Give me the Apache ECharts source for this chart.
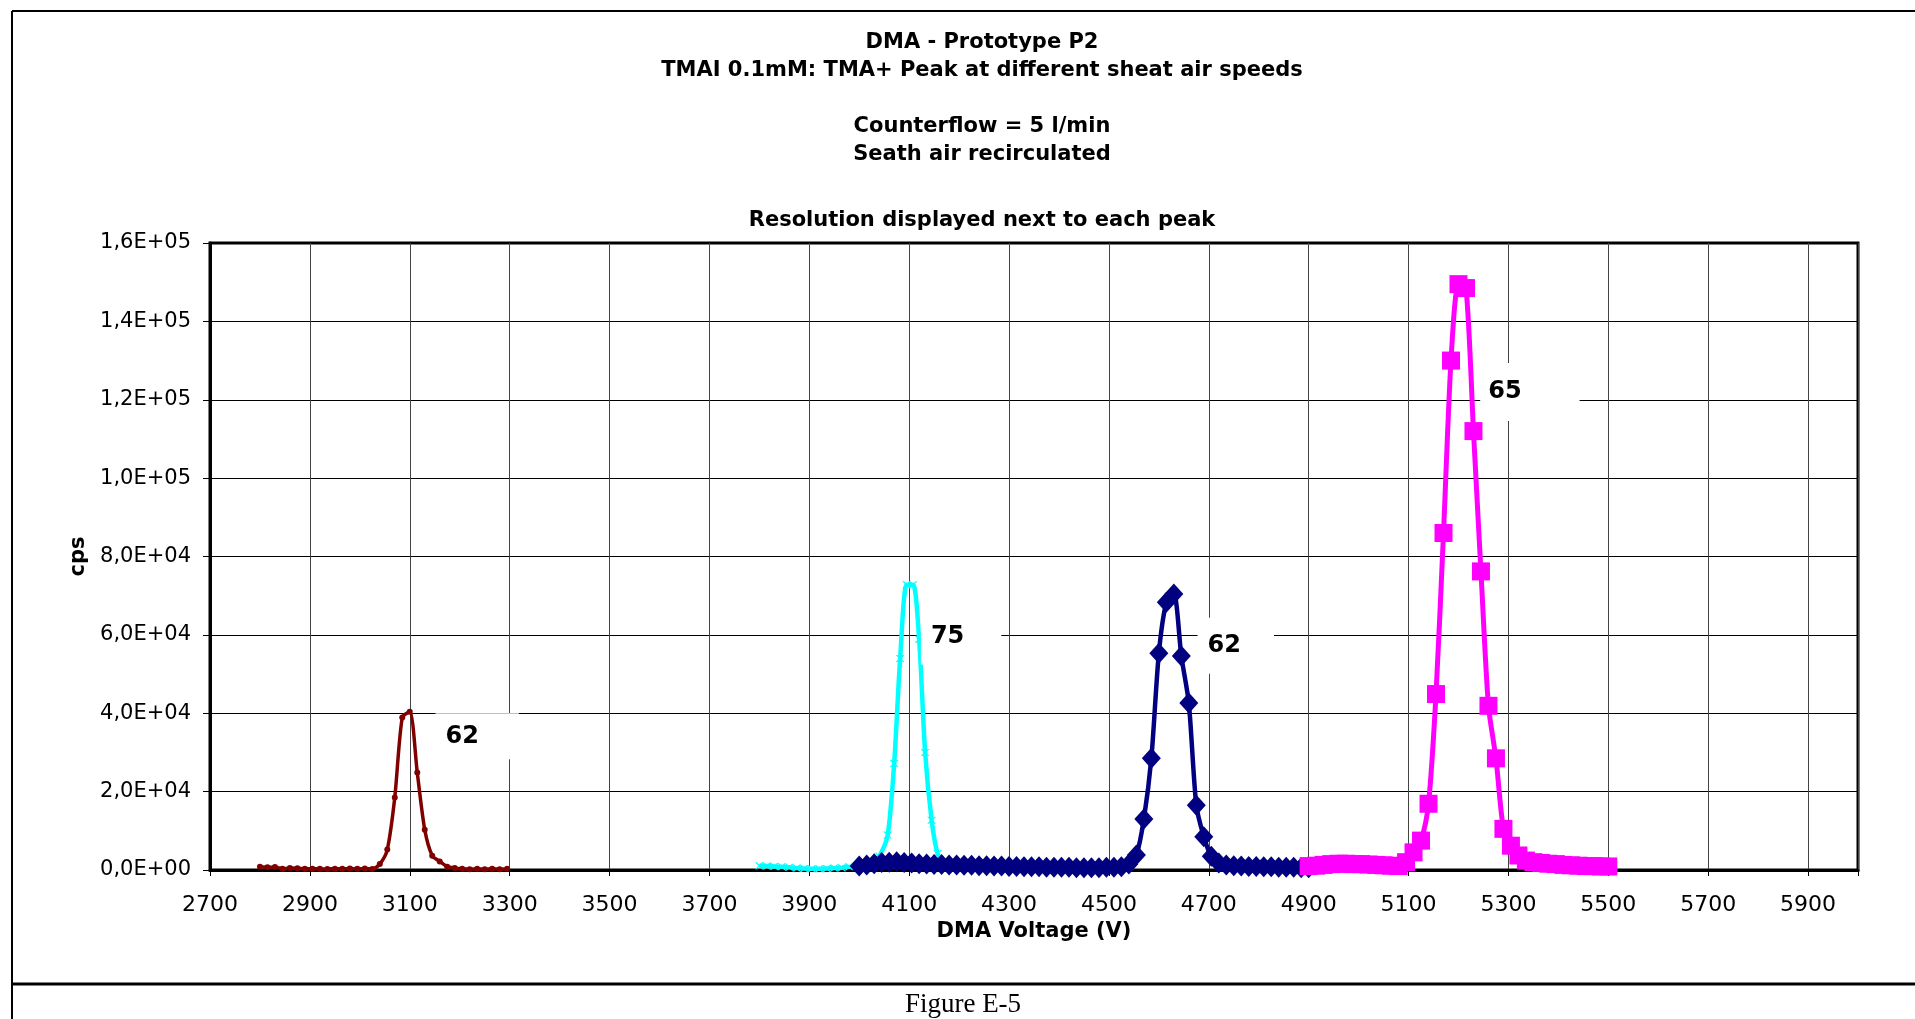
<!DOCTYPE html>
<html><head><meta charset="utf-8">
<script src="https://cdn.jsdelivr.net/npm/echarts@6/dist/echarts.min.js"></script>
<style>html,body{margin:0;padding:0;background:#fff}#c{width:1915px;height:1019px}</style>
</head><body><div id="c"></div>
<script>
// ---- data ----
const xTickLabels = [2700,2900,3100,3300,3500,3700,3900,4100,4300,4500,4700,4900,5100,5300,5500,5700,5900];
const yTickValues = [0,20000,40000,60000,80000,100000,120000,140000,160000];

const redV = [2800,2815,2830,2845,2860,2875,2890,2905,2920,2935,2950,2965,2980,2995,3010,3025,3040,3055,3070,3085,3100,3115,3130,3145,3160,3175,3190,3205,3220,3235,3250,3265,3280,3295];
const redCps = [800,700,750,300,500,450,350,300,300,250,350,300,400,300,400,250,1500,5200,18500,38900,40400,24900,10300,3650,2200,850,500,300,200,300,200,300,200,300];

const cyanV = [3800,3815,3830,3845,3860,3875,3890,3905,3920,3935,3950,3965,3980,3995,4010,4025,4040,4057,4070,4082,4095,4108,4120,4132,4145,4157,4170];
const cyanCps = [1100,1000,900,800,700,500,400,300,300,400,500,600,800,1000,1300,1800,3500,8900,27200,54000,72800,72800,58900,30000,12700,4200,1800];

const navyV = [4000,4015,4030,4045,4060,4075,4090,4105,4120,4135,4150,4165,4180,4195,4210,4225,4240,4255,4270,4285,4300,4315,4330,4345,4360,4375,4390,4405,4420,4435,4450,4465,4480,4495,4510,4525,4540,4555,4570,4585,4600,4615,4630,4645,4660,4675,4690,4705,4720,4735,4750,4765,4780,4795,4810,4825,4840,4855,4870,4885,4900];
const navyCps = [1000,1300,1600,1900,2000,2100,1900,1800,1600,1500,1400,1400,1300,1300,1200,1200,1100,1100,1000,1000,900,900,800,800,800,700,700,700,700,600,600,600,600,700,700,800,1500,3800,13000,28500,55300,68300,70400,54600,42600,16500,8500,3500,1800,1300,1100,1000,900,900,800,800,700,700,700,600,600];

const magV = [4900,4915,4930,4945,4960,4975,4990,5005,5020,5035,5050,5065,5080,5095,5110,5125,5140,5155,5170,5185,5200,5215,5230,5245,5260,5275,5290,5305,5320,5335,5350,5365,5380,5395,5410,5425,5440,5455,5470,5485,5500];
const magCps = [1000,1100,1300,1500,1600,1600,1500,1500,1400,1300,1200,1100,1000,2000,4500,7500,16900,44900,86000,130000,149500,148500,112000,76200,41900,28500,10500,6200,3700,2400,2000,1800,1600,1500,1300,1200,1100,1000,1000,900,900];

// resolution annotations (text, anchor voltage, anchor cps)
const resText = ['62','75','62','65'];
const resV = [3235,4204,4754,5343];
const resCps = [34100,59600,57200,122000];

// ---- build ----
const FONT = 'DejaVu Sans';
function pairs(v,c){ return v.map((x,i)=>[x,c[i]]); }
function sci(v){
  if (v === 0) return '0,0E+00';
  const e = Math.floor(Math.log10(v) + 1e-9);
  const m = v / Math.pow(10, e);
  return m.toFixed(1).replace('.', ',') + 'E+' + (e < 10 ? '0' + e : e);
}
function resLabel(i, pad){
  return {
    symbol: 'rect', symbolSize: 1,
    itemStyle: {color: 'rgba(0,0,0,0)'},
    data: [{coord: [resV[i], resCps[i]], value: resText[i]}],
    label: {
      show: true, position: 'inside', formatter: resText[i],
      color: '#000', fontFamily: FONT, fontWeight: 'bold', fontSize: 24, lineHeight: 24,
      backgroundColor: '#fff', padding: pad
    }
  };
}
function mkSeries(name, v, c, color, width, symbol, size, mp){
  return {
    name, type: 'line', data: pairs(v, c), smooth: 0.25,
    lineStyle: {color, width}, itemStyle: {color, borderWidth: 0},
    symbol, symbolSize: size, showSymbol: true, showAllSymbol: true,
    animation: false, markPoint: mp, z: 2
  };
}
const crossPath = 'path://M0,0L2,0L5,3L8,0L10,0L6,4L10,8L8,8L5,5L2,8L0,8L4,4Z';

const chart = echarts.init(document.getElementById('c'));
const titleStyle = {fontFamily: FONT, fontWeight: 'bold', fontSize: 21, fill: '#000', textAlign: 'center', textVerticalAlign: 'middle'};
chart.setOption({
  animation: false,
  backgroundColor: '#fff',
  graphic: [
    {type: 'line', shape: {x1: 12, y1: 11, x2: 12, y2: 1019}, style: {stroke: '#000', lineWidth: 2}},
    {type: 'line', shape: {x1: 12, y1: 11, x2: 1915, y2: 11}, style: {stroke: '#000', lineWidth: 2}},
    {type: 'line', shape: {x1: 12, y1: 984, x2: 1915, y2: 984}, style: {stroke: '#000', lineWidth: 3}},
    {type: 'text', x: 982, y: 43, style: Object.assign({text: 'DMA - Prototype P2'}, titleStyle)},
    {type: 'text', x: 982, y: 71, style: Object.assign({text: 'TMAI 0.1mM: TMA+ Peak at different sheat air speeds'}, titleStyle)},
    {type: 'text', x: 982, y: 127, style: Object.assign({text: 'Counterflow = 5 l/min'}, titleStyle)},
    {type: 'text', x: 982, y: 155, style: Object.assign({text: 'Seath air recirculated'}, titleStyle)},
    {type: 'text', x: 982, y: 221, style: Object.assign({text: 'Resolution displayed next to each peak'}, titleStyle)},
    {type: 'text', x: 963, y: 1005, style: {text: 'Figure E-5', fontFamily: 'Liberation Serif', fontSize: 27, fill: '#000', textAlign: 'center', textVerticalAlign: 'middle'}}
  ],
  grid: {left: 210, right: 57, top: 243, bottom: 149, show: true, borderColor: '#000', borderWidth: 3, backgroundColor: '#fff'},
  xAxis: {
    type: 'value', min: 2700, max: 6000, interval: 200,
    name: 'DMA Voltage (V)', nameLocation: 'middle', nameGap: 50,
    nameTextStyle: {fontFamily: FONT, fontWeight: 'bold', fontSize: 21, color: '#000'},
    axisLine: {onZero: false, lineStyle: {color: '#000', width: 3}},
    axisTick: {show: true, length: 6, lineStyle: {color: '#000', width: 1}},
    axisLabel: {margin: 24, fontFamily: FONT, fontSize: 22, color: '#000',
      formatter: v => xTickLabels.indexOf(v) >= 0 ? String(v) : ''},
    splitLine: {show: true, lineStyle: {color: '#444', width: 1}}
  },
  yAxis: {
    type: 'value', min: 0, max: 160000, interval: 20000,
    name: 'cps', nameLocation: 'middle', nameGap: 120,
    nameTextStyle: {fontFamily: FONT, fontWeight: 'bold', fontSize: 21, color: '#000'},
    axisLine: {show: true, lineStyle: {color: '#000', width: 3}},
    axisTick: {show: true, length: 7, lineStyle: {color: '#000', width: 1}},
    axisLabel: {margin: 19, fontFamily: FONT, fontSize: 21, color: '#000',
      formatter: v => yTickValues.indexOf(v) >= 0 ? sci(v) : ''},
    splitLine: {show: true, lineStyle: {color: '#000', width: 1}}
  },
  series: [
    mkSeries('red', redV, redCps, '#800000', 3.5, 'circle', 6, resLabel(0, [9, 40, 13, 10])),
    mkSeries('cyan', cyanV, cyanCps, '#00FFFF', 4.5, crossPath, [9, 7], resLabel(1, [7, 37, 25, 10])),
    mkSeries('navy', navyV, navyCps, '#000080', 4.5, 'diamond', [19, 21], resLabel(2, [7, 33, 25, 10])),
    mkSeries('magenta', magV, magCps, '#FF00FF', 5, 'rect', 18, resLabel(3, [8, 58, 26, 8]))
  ]
});
</script>
</body></html>
